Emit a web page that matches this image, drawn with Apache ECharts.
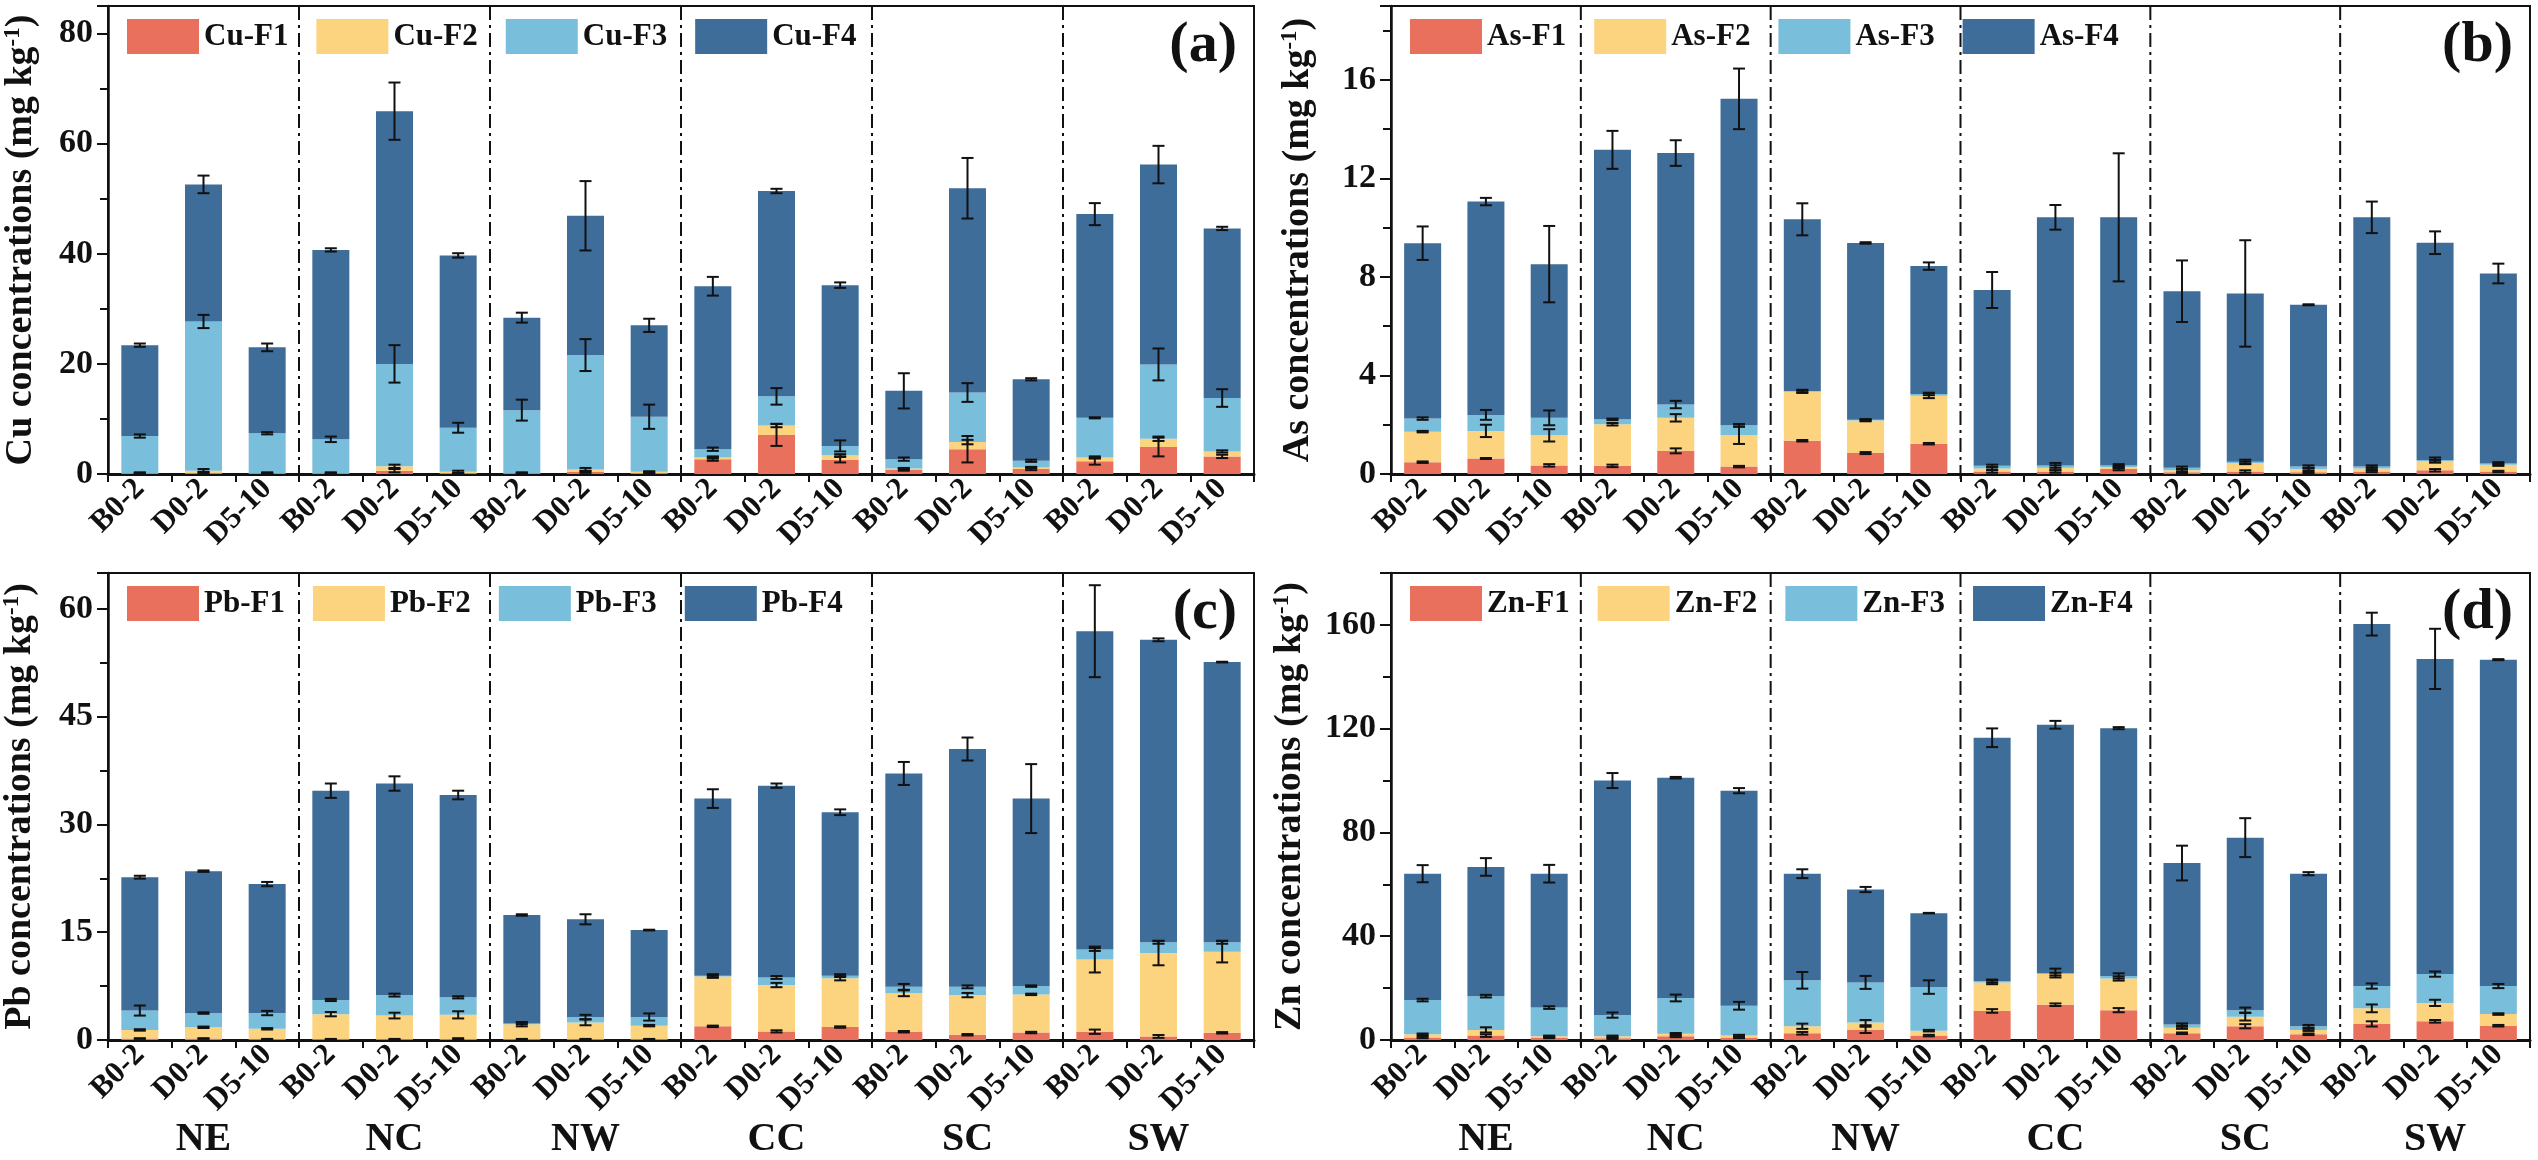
<!DOCTYPE html>
<html>
<head>
<meta charset="utf-8">
<script src="https://cdn.jsdelivr.net/npm/echarts@6/dist/echarts.min.js"></script>
<style>
  html, body { margin: 0; background: #fff; }
  #chart { width: 2538px; height: 1160px; }
</style>
</head>
<body>
<div id="chart"></div>
<script>
// tick labels
const samples = ['B0-2', 'D0-2', 'D5-10'];
const regions = ['NE', 'NC', 'NW', 'CC', 'SC', 'SW'];
const categories = regions.flatMap(() => samples);

// Cu fractions (mg/kg), order NE..SW x B0-2/D0-2/D5-10
const cuF1 = [0.1, 0.2, 0.1, 0.1, 0.6, 0.1, 0.1, 0.4, 0.2, 2.7, 7.1, 2.6, 0.8, 4.5, 0.9, 2.3, 4.9, 3.2];
const cuF2 = [0.1, 0.4, 0.1, 0.1, 0.8, 0.3, 0.1, 0.4, 0.2, 0.3, 1.7, 0.8, 0.2, 1.3, 0.3, 0.7, 1.5, 0.9];
const cuF3 = [6.7, 27.1, 7.2, 6.1, 18.6, 8.0, 11.4, 20.8, 10.0, 1.5, 5.3, 1.7, 1.7, 9.0, 1.2, 7.2, 13.5, 9.7];
const cuF4 = [16.5, 24.9, 15.6, 34.4, 45.9, 31.3, 16.8, 25.3, 16.6, 29.6, 37.3, 29.2, 12.4, 37.1, 14.8, 37.0, 36.3, 30.8];
const cuE1 = [0.1, 0.2, 0.1, 0.1, 0.3, 0.1, 0.1, 0.2, 0.1, 0.3, 2.0, 0.5, 0.2, 2.4, 0.2, 0.6, 1.7, 0.3];
const cuE2 = [0.1, 0.3, 0.1, 0.1, 0.3, 0.2, 0.1, 0.3, 0.1, 0.2, 0.3, 0.2, 0.1, 0.4, 0.1, 0.2, 0.4, 0.2];
const cuE3 = [0.3, 1.2, 0.2, 0.5, 3.4, 0.9, 1.9, 2.9, 2.2, 0.3, 1.5, 1.0, 0.3, 1.7, 0.2, 0.1, 2.9, 1.6];
const cuE4 = [0.3, 1.6, 0.7, 0.3, 5.2, 0.4, 0.9, 6.3, 1.2, 1.7, 0.4, 0.5, 3.2, 5.5, 0.2, 2.0, 3.4, 0.3];

// As fractions
const asF1 = [0.48, 0.63, 0.35, 0.33, 0.94, 0.30, 1.35, 0.85, 1.23, 0.10, 0.10, 0.20, 0.07, 0.10, 0.07, 0.10, 0.15, 0.10];
const asF2 = [1.24, 1.12, 1.22, 1.69, 1.34, 1.27, 1.99, 1.32, 1.95, 0.12, 0.15, 0.08, 0.08, 0.35, 0.13, 0.12, 0.37, 0.28];
const asF3 = [0.53, 0.65, 0.71, 0.20, 0.54, 0.41, 0.03, 0.03, 0.07, 0.11, 0.10, 0.07, 0.10, 0.05, 0.10, 0.08, 0.05, 0.05];
const asF4 = [7.12, 8.66, 6.24, 10.94, 10.21, 13.25, 6.97, 7.18, 5.19, 7.14, 10.07, 10.07, 7.17, 6.83, 6.57, 10.12, 8.82, 7.71];
const asE1 = [0.03, 0.02, 0.05, 0.05, 0.10, 0.03, 0.03, 0.04, 0.03, 0.05, 0.05, 0.05, 0.03, 0.05, 0.03, 0.03, 0.05, 0.03];
const asE2 = [0.03, 0.25, 0.25, 0.05, 0.15, 0.35, 0.05, 0.03, 0.10, 0.05, 0.10, 0.05, 0.05, 0.05, 0.05, 0.05, 0.05, 0.05];
const asE3 = [0.05, 0.20, 0.30, 0.03, 0.15, 0.05, 0.05, 0.03, 0.05, 0.05, 0.10, 0.05, 0.05, 0.08, 0.05, 0.05, 0.10, 0.05];
const asE4 = [0.68, 0.15, 1.55, 0.77, 0.52, 1.23, 0.65, 0.03, 0.15, 0.73, 0.50, 2.60, 1.25, 2.16, 0.02, 0.64, 0.46, 0.40];

// Pb fractions
const pbF1 = [0.2, 0.2, 0.1, 0.1, 0.1, 0.15, 0.1, 0.1, 0.1, 1.9, 1.2, 1.8, 1.15, 0.73, 1.04, 1.15, 0.5, 1.0];
const pbF2 = [1.2, 1.57, 1.46, 3.5, 3.3, 3.35, 2.1, 2.35, 1.9, 6.95, 6.45, 6.8, 5.35, 5.52, 5.31, 10.05, 11.6, 11.3];
const pbF3 = [2.7, 1.98, 2.19, 1.97, 2.85, 2.44, 0.1, 0.75, 1.2, 0.11, 1.05, 0.36, 0.9, 1.15, 1.15, 1.4, 1.5, 1.3];
const pbF4 = [18.56, 19.75, 17.95, 29.13, 29.45, 28.16, 15.1, 13.6, 12.1, 24.64, 26.7, 22.74, 29.7, 33.1, 26.1, 44.3, 42.1, 39.0];
const pbE1 = [0.05, 0.05, 0.05, 0.05, 0.05, 0.1, 0.05, 0.05, 0.05, 0.1, 0.15, 0.1, 0.1, 0.1, 0.1, 0.3, 0.2, 0.1];
const pbE2 = [0.1, 0.1, 0.1, 0.3, 0.4, 0.5, 0.3, 0.4, 0.1, 0.2, 0.3, 0.3, 0.4, 0.3, 0.1, 1.8, 1.7, 1.5];
const pbE3 = [0.7, 0.1, 0.3, 0.15, 0.2, 0.15, 0.1, 0.3, 0.5, 0.2, 0.2, 0.2, 0.4, 0.2, 0.1, 0.2, 0.2, 0.2];
const pbE4 = [0.2, 0.1, 0.3, 1.0, 1.0, 0.6, 0.1, 0.7, 0.05, 1.3, 0.3, 0.4, 1.6, 1.6, 4.8, 6.4, 0.2, 0.05];

// Zn fractions
const znF1 = [1.0, 1.7, 1.0, 0.7, 1.4, 1.0, 2.6, 3.9, 1.7, 11.2, 13.6, 11.5, 2.6, 5.3, 2.2, 6.2, 7.2, 5.5];
const znF2 = [1.2, 2.2, 0.4, 0.7, 1.0, 0.7, 2.7, 2.8, 1.9, 11.0, 11.8, 12.2, 2.1, 3.7, 1.7, 6.0, 7.1, 4.5];
const znF3 = [13.2, 13.0, 11.1, 8.2, 13.8, 11.5, 17.7, 15.5, 16.8, 0.5, 0.4, 1.0, 1.3, 2.5, 1.4, 8.6, 11.1, 10.8];
const znF4 = [48.7, 49.8, 51.6, 90.4, 84.9, 82.9, 41.1, 35.8, 28.5, 93.8, 95.7, 95.5, 62.2, 66.5, 58.8, 139.5, 121.5, 125.8];
const znE1 = [0.3, 0.5, 0.3, 0.3, 0.3, 0.3, 0.5, 1.2, 0.3, 0.7, 0.5, 0.8, 0.3, 0.8, 0.3, 1.0, 0.5, 0.3];
const znE2 = [0.3, 1.0, 0.3, 0.3, 0.3, 0.3, 1.0, 1.0, 0.3, 0.7, 0.5, 0.8, 0.4, 1.5, 0.4, 1.5, 1.2, 0.3];
const znE3 = [0.5, 0.5, 0.5, 1.0, 1.3, 1.5, 3.2, 2.5, 2.6, 0.6, 1.7, 1.0, 0.4, 1.0, 0.5, 1.0, 1.0, 0.8];
const znE4 = [3.3, 3.4, 3.4, 2.9, 0.3, 1.0, 1.7, 1.0, 0.1, 3.6, 1.5, 0.4, 6.7, 7.5, 0.6, 4.4, 11.6, 0.2];

const metals = ['Cu', 'As', 'Pb', 'Zn'];
const letters = ['(a)', '(b)', '(c)', '(d)'];
const axisMax = [85, 19, 65, 180];
const axisStep = [20, 4, 15, 40];
const fractions = [[cuF1, cuF2, cuF3, cuF4], [asF1, asF2, asF3, asF4], [pbF1, pbF2, pbF3, pbF4], [znF1, znF2, znF3, znF4]];
const errors = [[cuE1, cuE2, cuE3, cuE4], [asE1, asE2, asE3, asE4], [pbE1, pbE2, pbE3, pbE4], [znE1, znE2, znE3, znE4]];

const colors = ['#E9705C', '#FCD37E', '#79BEDA', '#3E6D99'];
const ink = '#111';
const fontFamily = "'Liberation Serif', 'Times New Roman', serif";
const chartWidth = 2538;

const layout = [
  { left: 108, top: 6, width: 1146, height: 468 },
  { left: 1391, top: 6, width: 1139, height: 468 },
  { left: 108, top: 573, width: 1146, height: 469 },
  { left: 1391, top: 573, width: 1139, height: 469 }
];
const nameGaps = [68, 74, 69, 82];

const boundaries = regions.slice(1).map((_, k) => [(k + 1) * samples.length, 0]);

function errorBar(params, api) {
  const x = api.value(0);
  const y = api.value(1);
  const e = api.value(2);
  const hi = api.coord([x, y + e]);
  const lo = api.coord([x, y - e]);
  const w = 6;
  const style = { stroke: ink, lineWidth: 2 };
  return {
    type: 'group',
    children: [
      { type: 'line', shape: { x1: hi[0], y1: hi[1], x2: lo[0], y2: lo[1] }, style },
      { type: 'line', shape: { x1: hi[0] - w, y1: hi[1], x2: hi[0] + w, y2: hi[1] }, style },
      { type: 'line', shape: { x1: lo[0] - w, y1: lo[1], x2: lo[0] + w, y2: lo[1] }, style }
    ]
  };
}

function separator(params, api) {
  const cs = params.coordSys;
  const x = api.coord([api.value(0), 0])[0];
  return {
    type: 'line',
    shape: { x1: x, y1: cs.y, x2: x, y2: cs.y + cs.height + 8 },
    style: { stroke: ink, lineWidth: 2, lineDash: [14, 5, 3, 5] }
  };
}

const grid = [], xAxis = [], yAxis = [], series = [], legend = [], title = [];

layout.forEach((g, i) => {
  const metal = metals[i];
  grid.push({ ...g, show: true, borderColor: ink, borderWidth: 2, backgroundColor: 'transparent' });

  const catIdx = xAxis.length;
  xAxis.push({
    type: 'category', gridIndex: i, data: categories, position: 'bottom',
    axisLine: { lineStyle: { color: ink, width: 3 } },
    axisTick: { alignWithLabel: true, length: 13, lineStyle: { color: ink, width: 2 } },
    axisLabel: { interval: 0, rotate: 45, fontSize: 31, fontWeight: 'bold', fontFamily, color: ink, margin: 10 }
  });
  const valIdx = xAxis.length;
  xAxis.push({
    type: 'value', gridIndex: i, min: 0, max: categories.length, interval: 1, position: 'bottom',
    axisLine: { show: false },
    axisTick: { show: true, length: 8, lineStyle: { color: ink, width: 2 } },
    axisLabel: { show: false }, splitLine: { show: false }
  });
  if (i >= 2) {
    xAxis.push({
      type: 'category', gridIndex: i, data: regions, position: 'bottom', offset: 80,
      axisLine: { show: false }, axisTick: { show: false },
      axisLabel: { fontSize: 40, fontWeight: 'bold', fontFamily, color: ink, margin: 0 }
    });
  }

  yAxis.push({
    type: 'value', gridIndex: i, min: 0, max: axisMax[i], interval: axisStep[i],
    axisLine: { show: true, lineStyle: { color: ink, width: 2.5 } },
    axisTick: { show: true, length: 11, lineStyle: { color: ink, width: 2 } },
    minorTick: { show: true, splitNumber: 2, length: 8, lineStyle: { color: ink, width: 2 } },
    splitLine: { show: false },
    axisLabel: { showMaxLabel: false, fontSize: 34, fontWeight: 'bold', fontFamily, color: ink, margin: 15 },
    name: metal + ' concentrations (mg kg{sup|-1})',
    nameLocation: 'middle', nameGap: nameGaps[i],
    nameTextStyle: {
      fontSize: 38, fontWeight: 'bold', fontFamily, color: ink,
      rich: { sup: { fontSize: 23, fontWeight: 'bold', fontFamily, color: ink, verticalAlign: 'top' } }
    }
  });

  const names = [];
  fractions[i].forEach((vals, f) => {
    const name = metal + '-F' + (f + 1);
    names.push(name);
    series.push({
      type: 'bar', name, xAxisIndex: catIdx, yAxisIndex: i, stack: 'p' + i,
      barWidth: 37, itemStyle: { color: colors[f] }, data: vals
    });
  });

  const errData = [];
  categories.forEach((_, c) => {
    let cum = 0;
    fractions[i].forEach((vals, f) => {
      cum += vals[c];
      errData.push([c, cum, errors[i][f][c]]);
    });
  });
  series.push({
    type: 'custom', xAxisIndex: catIdx, yAxisIndex: i, data: errData,
    encode: { x: 0, y: 1 }, renderItem: errorBar, z: 5, silent: true
  });
  series.push({
    type: 'custom', xAxisIndex: valIdx, yAxisIndex: i, data: boundaries,
    encode: { x: 0, y: 1 }, renderItem: separator, z: 4, silent: true
  });

  legend.push({
    data: names, left: g.left + 14, top: g.top + 8, icon: 'rect',
    itemWidth: 72, itemHeight: 35, itemGap: 28, itemTextGap: 11, selectedMode: false,
    textStyle: { fontSize: 31, fontWeight: 'bold', fontFamily, color: ink }
  });
  title.push({
    text: letters[i], right: chartWidth - (g.left + g.width) + 12, top: g.top + 6,
    textStyle: { fontSize: 58, fontWeight: 'bold', fontFamily, color: ink }
  });
});

const chart = echarts.init(document.getElementById('chart'));
chart.setOption({
  animation: false,
  backgroundColor: '#fff',
  title, legend, grid, xAxis, yAxis, series
});
</script>
</body>
</html>
